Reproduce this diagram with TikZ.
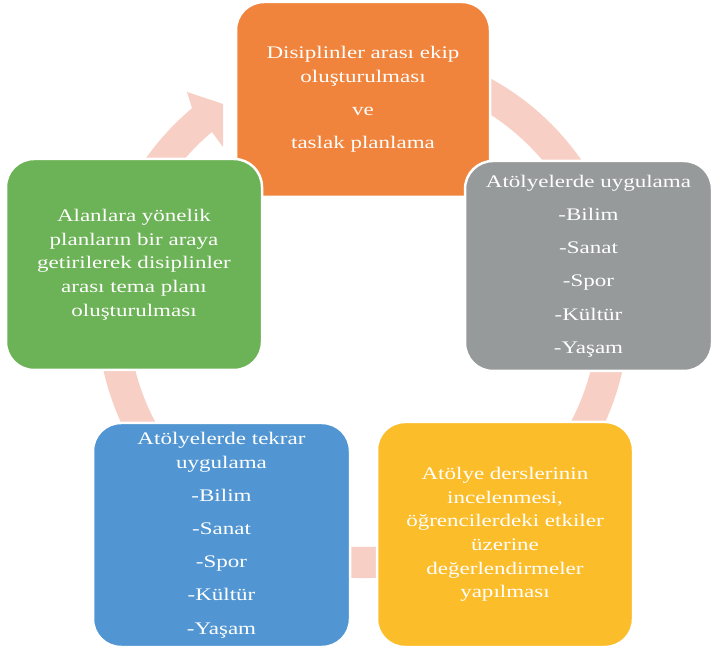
\documentclass[tikz,border=0pt]{standalone}
\usepackage{fontspec}
\setmainfont{Liberation Serif}[FakeStretch=1.3]
\definecolor{ringC}{HTML}{F8CFC4}
\definecolor{orangeC}{HTML}{F0843C}
\definecolor{grayC}{HTML}{979A9A}
\definecolor{greenC}{HTML}{6CB256}
\definecolor{yellowC}{HTML}{FCBD2A}
\definecolor{blueC}{HTML}{5196D2}
\tikzset{
  box/.style={draw=white, line width=2.5pt, rounded corners=28pt, text=white,
    align=center, inner sep=0pt, font=\fontsize{17.7}{23.7}\selectfont},
  ring/.style={fill=ringC, draw=none}
}
\begin{document}
\begin{tikzpicture}[x=1pt,y=1pt]
\useasboundingbox (0,0) rectangle (714,650);
\coordinate (C) at (363,338);
% circular arrow band behind the boxes
\fill[ring] ([shift={(75:266)}]C) arc[start angle=75, end angle=-230, radius=266]
  -- (187,558) -- (223,546) -- (223,503)
  -- ([shift={(-230:235)}]C) arc[start angle=-230, end angle=75, radius=235] -- cycle;
% boxes
\node[box, fill=orangeC, minimum width=254pt, minimum height=195pt] (n1) at (363,550.5)
  {Disiplinler arası ekip\\ oluşturulması\\[9.5pt] ve\\[9.5pt] taslak planlama};
\node[box, fill=grayC, minimum width=247pt, minimum height=210pt] (n2) at (588.5,384)
  {Atölyelerde uygulama\\[9.5pt] -Bilim\\[9.5pt] -Sanat\\[9.5pt] -Spor\\[9.5pt] -Kültür\\[9.5pt] -Yaşam};
\node[box, fill=yellowC, minimum width=256pt, minimum height=225pt] (n3) at (505,115.5)
  {Atölye derslerinin\\ incelenmesi,\\ öğrencilerdeki etkiler\\ üzerine\\ değerlendirmeler\\ yapılması};
\node[box, fill=blueC, minimum width=257pt, minimum height=224pt] (n4) at (221.5,115)
  {Atölyelerde tekrar\\ uygulama\\[9.5pt] -Bilim\\[9.5pt] -Sanat\\[9.5pt] -Spor\\[9.5pt] -Kültür\\[9.5pt] -Yaşam};
\node[box, fill=greenC, minimum width=256pt, minimum height=211pt] (n5) at (134,385.5)
  {Alanlara yönelik\\ planların bir araya\\ getirilerek disiplinler\\ arası tema planı\\ oluşturulması};
\end{tikzpicture}
\end{document}
